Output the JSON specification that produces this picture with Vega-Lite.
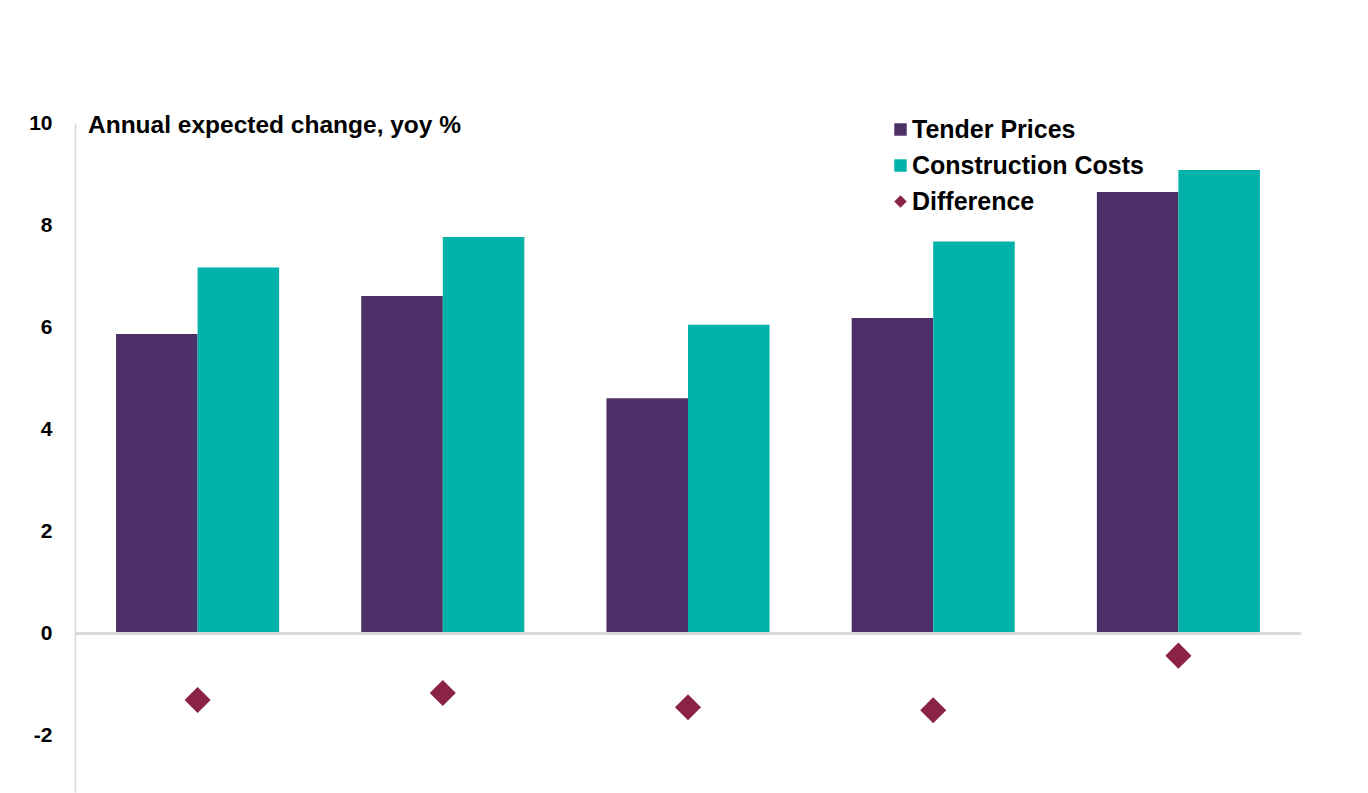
{
  "$schema": "https://vega.github.io/schema/vega-lite/v6.json",
  "autosize": "none",
  "width": 1226,
  "height": 669,
  "padding": {"left": 75, "top": 123, "right": 67, "bottom": 1},
  "background": "white",
  "title": {
    "text": "Annual expected change, yoy %",
    "anchor": "start",
    "frame": "group",
    "orient": "top",
    "offset": -38,
    "baseline": "middle",
    "dx": 13,
    "font": "Liberation Sans",
    "fontSize": 24.5,
    "fontWeight": "bold",
    "color": "#000000"
  },
  "config": {
    "view": {"stroke": null},
    "font": "Liberation Sans"
  },
  "data": {
    "values": [
      {"group": "1", "series": "Tender Prices", "value": 5.87},
      {"group": "1", "series": "Construction Costs", "value": 7.17},
      {"group": "1", "series": "Difference", "value": -1.30},
      {"group": "2", "series": "Tender Prices", "value": 6.61},
      {"group": "2", "series": "Construction Costs", "value": 7.77},
      {"group": "2", "series": "Difference", "value": -1.16},
      {"group": "3", "series": "Tender Prices", "value": 4.61},
      {"group": "3", "series": "Construction Costs", "value": 6.05},
      {"group": "3", "series": "Difference", "value": -1.44},
      {"group": "4", "series": "Tender Prices", "value": 6.18},
      {"group": "4", "series": "Construction Costs", "value": 7.68},
      {"group": "4", "series": "Difference", "value": -1.50},
      {"group": "5", "series": "Tender Prices", "value": 8.65},
      {"group": "5", "series": "Construction Costs", "value": 9.08},
      {"group": "5", "series": "Difference", "value": -0.43}
    ]
  },
  "encoding": {
    "x": {
      "field": "group",
      "type": "nominal",
      "scale": {"paddingInner": 0.335, "paddingOuter": 0.1675},
      "axis": null
    },
    "y": {
      "field": "value",
      "type": "quantitative",
      "scale": {"domain": [-3.1, 10], "nice": false, "zero": false},
      "axis": {
        "title": null,
        "values": [-2, 0, 2, 4, 6, 8, 10],
        "labelExpr": "'' + datum.value",
        "grid": false,
        "ticks": false,
        "domain": true,
        "domainColor": "#d9d9d9",
        "domainWidth": 1.5,
        "labelFont": "Liberation Sans",
        "labelFontSize": 21,
        "labelFontWeight": "bold",
        "labelColor": "#000000",
        "labelPadding": 23
      }
    }
  },
  "layer": [
    {
      "transform": [{"filter": "datum.series !== 'Difference'"}],
      "mark": {"type": "bar"},
      "encoding": {
        "xOffset": {
          "field": "series",
          "type": "nominal",
          "scale": {"domain": ["Tender Prices", "Construction Costs"], "paddingInner": 0, "paddingOuter": 0}
        },
        "color": {
          "field": "series",
          "type": "nominal",
          "scale": {
            "domain": ["Tender Prices", "Construction Costs", "Difference"],
            "range": ["#4e3069", "#00b2aa", "#8b2348"]
          },
          "legend": {
            "title": null,
            "orient": "none",
            "legendX": 813,
            "legendY": -6,
            "labelFont": "Liberation Sans",
            "labelFontSize": 25,
            "labelFontWeight": "bold",
            "labelColor": "#000000",
            "labelOffset": -1,
            "symbolSize": 155,
            "symbolStrokeWidth": 0,
            "rowPadding": 10,
            "labelLimit": 400
          }
        }
      }
    },
    {
      "transform": [{"filter": "datum.series === 'Difference'"}],
      "mark": {"type": "point", "filled": true, "opacity": 1, "size": 680},
      "encoding": {
        "color": {"field": "series", "type": "nominal"},
        "shape": {
          "field": "series",
          "type": "nominal",
          "scale": {
            "domain": ["Tender Prices", "Construction Costs", "Difference"],
            "range": ["square", "square", "diamond"]
          }
        }
      }
    },
    {
      "mark": {"type": "rule", "color": "#d9d9d9", "strokeWidth": 2},
      "encoding": {"x": null, "y": {"datum": 0}}
    }
  ]
}
